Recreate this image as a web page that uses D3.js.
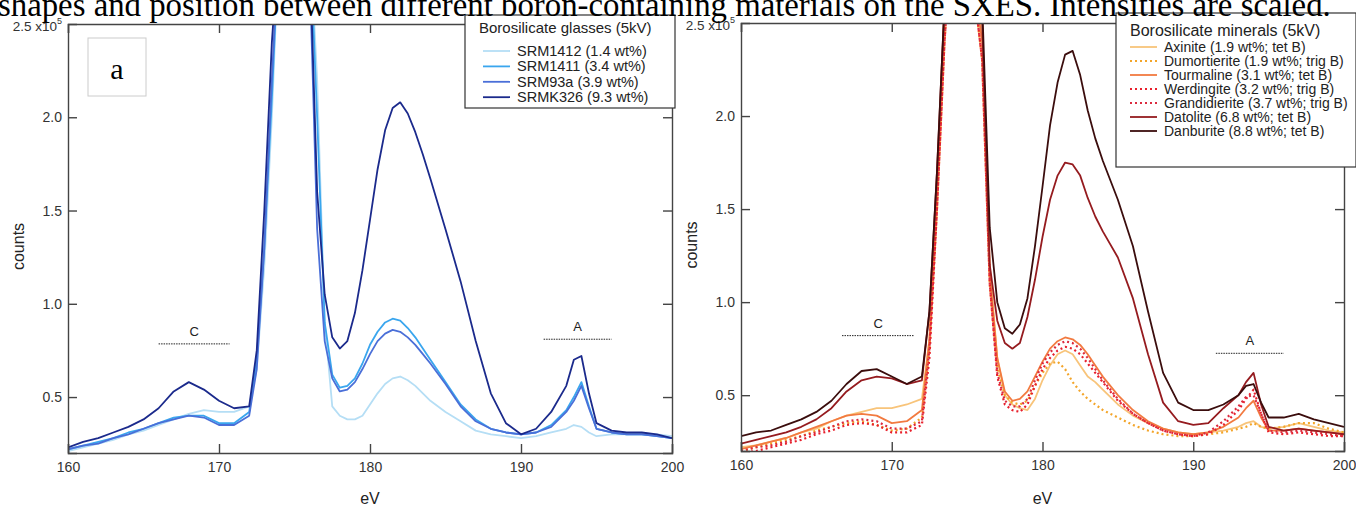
<!DOCTYPE html>
<html>
<head>
<meta charset="utf-8">
<script src="https://cdn.jsdelivr.net/npm/d3@7"></script>
<style>
body { margin: 0; background: #fff; }
svg { display: block; }
</style>
</head>
<body>
<div id="chart"></div>
<script>
// energy grid (eV) shared by every spectrum
var eV = [160,161,162,163,164,165,166,167,168,169,170,171,172,172.5,173,173.5,174,175,176,176.5,177,177.5,178,178.5,179,179.5,180,180.5,181,181.5,182,182.5,183,183.5,184,185,186,187,188,189,190,191,192,193,193.5,194,194.5,195,196,197,198,199,200];

// glasses, counts x1e5
var srm1412 = [0.21,0.23,0.25,0.27,0.30,0.32,0.35,0.38,0.41,0.43,0.42,0.42,0.45,0.65,1.2,2.0,3,3,3,2.2,0.9,0.45,0.40,0.38,0.38,0.40,0.46,0.52,0.57,0.60,0.61,0.59,0.56,0.52,0.48,0.42,0.37,0.32,0.30,0.29,0.28,0.29,0.31,0.33,0.35,0.34,0.31,0.29,0.30,0.30,0.30,0.30,0.29];
var srm1411 = [0.22,0.24,0.26,0.28,0.31,0.33,0.36,0.39,0.40,0.40,0.36,0.36,0.42,0.7,1.3,2.1,3,3,3,2.0,0.9,0.62,0.55,0.56,0.60,0.68,0.78,0.85,0.90,0.92,0.91,0.87,0.82,0.76,0.70,0.58,0.46,0.38,0.33,0.31,0.30,0.31,0.35,0.43,0.50,0.58,0.45,0.33,0.31,0.30,0.30,0.29,0.28];
var srm93a = [0.22,0.24,0.25,0.28,0.30,0.33,0.36,0.38,0.40,0.39,0.35,0.35,0.40,0.65,1.3,2.2,3,3,2.8,1.4,0.8,0.60,0.53,0.54,0.58,0.65,0.73,0.80,0.84,0.86,0.85,0.82,0.78,0.73,0.68,0.57,0.45,0.37,0.33,0.31,0.30,0.31,0.34,0.42,0.48,0.56,0.44,0.33,0.31,0.30,0.30,0.29,0.28];
var srmk326 = [0.23,0.26,0.28,0.31,0.34,0.38,0.44,0.53,0.58,0.54,0.48,0.44,0.45,0.75,1.5,2.4,3,3,2.9,1.6,1.05,0.82,0.76,0.80,0.95,1.18,1.45,1.72,1.93,2.05,2.08,2.02,1.92,1.80,1.67,1.40,1.12,0.80,0.52,0.36,0.30,0.33,0.42,0.56,0.70,0.72,0.52,0.36,0.32,0.31,0.31,0.30,0.28];

// minerals, counts x1e5
var axinite = [0.22,0.23,0.25,0.27,0.30,0.32,0.36,0.39,0.41,0.43,0.43,0.45,0.48,0.8,1.6,2.6,3,3,2.5,1.2,0.7,0.5,0.45,0.43,0.42,0.48,0.58,0.66,0.72,0.74,0.72,0.66,0.60,0.57,0.53,0.45,0.39,0.35,0.32,0.30,0.29,0.30,0.31,0.33,0.35,0.36,0.33,0.32,0.33,0.35,0.33,0.31,0.30];
var dumortierite = [0.20,0.22,0.24,0.26,0.28,0.31,0.33,0.35,0.36,0.34,0.31,0.32,0.38,0.75,1.5,2.4,3,3,2.3,1.1,0.65,0.5,0.46,0.45,0.47,0.55,0.62,0.67,0.68,0.64,0.57,0.52,0.48,0.45,0.42,0.38,0.34,0.31,0.29,0.28,0.28,0.29,0.30,0.32,0.33,0.35,0.33,0.32,0.33,0.35,0.35,0.32,0.30];
var tourmaline = [0.21,0.23,0.25,0.27,0.30,0.33,0.36,0.39,0.40,0.39,0.35,0.36,0.42,0.8,1.6,2.5,3,3,2.4,1.15,0.7,0.52,0.47,0.48,0.52,0.60,0.68,0.75,0.79,0.81,0.80,0.77,0.72,0.66,0.60,0.50,0.42,0.36,0.32,0.30,0.29,0.30,0.33,0.38,0.43,0.47,0.38,0.31,0.31,0.32,0.31,0.30,0.29];
var werdingite = [0.19,0.20,0.22,0.24,0.26,0.29,0.31,0.34,0.35,0.34,0.30,0.30,0.34,0.7,1.5,2.4,3,3,2.3,1.1,0.6,0.45,0.42,0.41,0.45,0.55,0.64,0.70,0.74,0.76,0.75,0.72,0.67,0.62,0.57,0.47,0.40,0.35,0.31,0.29,0.28,0.29,0.34,0.42,0.48,0.53,0.40,0.30,0.29,0.30,0.29,0.28,0.28];
var grandidierite = [0.20,0.22,0.23,0.25,0.28,0.30,0.33,0.36,0.37,0.36,0.32,0.32,0.36,0.75,1.5,2.4,3,3,2.3,1.1,0.62,0.47,0.44,0.44,0.48,0.58,0.67,0.73,0.77,0.79,0.78,0.75,0.70,0.64,0.58,0.48,0.40,0.35,0.31,0.29,0.28,0.30,0.36,0.44,0.49,0.50,0.40,0.31,0.30,0.31,0.30,0.29,0.28];
var datolite = [0.24,0.26,0.28,0.30,0.33,0.37,0.43,0.52,0.58,0.60,0.59,0.56,0.58,0.95,1.7,2.6,3,3,2.5,1.2,0.9,0.78,0.75,0.78,0.92,1.12,1.35,1.55,1.68,1.75,1.74,1.68,1.56,1.46,1.38,1.24,1.02,0.72,0.46,0.36,0.34,0.35,0.43,0.50,0.57,0.62,0.45,0.33,0.31,0.32,0.31,0.30,0.29];
var danburite = [0.28,0.30,0.31,0.34,0.37,0.41,0.47,0.56,0.63,0.64,0.60,0.56,0.60,0.95,1.7,2.6,3,3,2.6,1.4,1.0,0.86,0.83,0.88,1.02,1.3,1.62,1.95,2.18,2.33,2.35,2.22,2.03,1.88,1.76,1.55,1.30,0.95,0.62,0.46,0.42,0.42,0.45,0.50,0.55,0.56,0.46,0.38,0.38,0.40,0.37,0.35,0.33];

var xTicks = [160,170,180,190,200];
var yTicks = [0.5,1.0,1.5,2.0];

var glassNames = ["SRM1412 (1.4 wt%)","SRM1411 (3.4 wt%)","SRM93a (3.9 wt%)","SRMK326 (9.3 wt%)"];
var mineralNames = ["Axinite (1.9 wt%; tet B)","Dumortierite (1.9 wt%; trig B)","Tourmaline (3.1 wt%; tet B)","Werdingite (3.2 wt%; trig B)","Grandidierite (3.7 wt%; trig B)","Datolite (6.8 wt%; tet B)","Danburite (8.8 wt%; tet B)"];

var glasses = [
  {name: glassNames[0], values: srm1412, color: "#b5def5", dash: null},
  {name: glassNames[1], values: srm1411, color: "#3aa6ee", dash: null},
  {name: glassNames[2], values: srm93a, color: "#4a6fd8", dash: null},
  {name: glassNames[3], values: srmk326, color: "#1b2a8c", dash: null}
];
var minerals = [
  {name: mineralNames[0], values: axinite, color: "#f8c47a", dash: null},
  {name: mineralNames[1], values: dumortierite, color: "#f3a52a", dash: "2,3"},
  {name: mineralNames[2], values: tourmaline, color: "#f27a40", dash: null},
  {name: mineralNames[3], values: werdingite, color: "#e8202c", dash: "2,3"},
  {name: mineralNames[4], values: grandidierite, color: "#dc2a3e", dash: "2,3"},
  {name: mineralNames[5], values: datolite, color: "#951b1f", dash: null},
  {name: mineralNames[6], values: danburite, color: "#3b0d0d", dash: null}
];

var sans = "Liberation Sans, Arial, sans-serif";

var svg = d3.select("#chart").append("svg")
    .attr("width", 1356)
    .attr("height", 508);

function drawPanel(id, box, series, legend, marks) {
  var x = d3.scaleLinear().domain([160, 200]).range([box.x0, box.x1]);
  var y = d3.scaleLinear().domain([0.2, 2.5]).range([box.y1, box.y0]);
  var g = svg.append("g");

  g.append("clipPath").attr("id", "clip" + id)
    .append("rect")
      .attr("x", box.x0).attr("y", box.y0)
      .attr("width", box.x1 - box.x0).attr("height", box.y1 - box.y0);

  var line = d3.line()
      .x(function(d, i) { return x(eV[i]); })
      .y(function(d) { return y(d); });

  g.append("g").attr("clip-path", "url(#clip" + id + ")")
    .selectAll("path")
    .data(series)
    .enter().append("path")
      .attr("d", function(s) { return line(s.values); })
      .attr("fill", "none")
      .attr("stroke", function(s) { return s.color; })
      .attr("stroke-width", function(s) { return s.dash ? 2.2 : 1.8; })
      .attr("stroke-dasharray", function(s) { return s.dash; })
      .attr("stroke-linejoin", "round");

  // frame with inward ticks on all sides
  var bottom = g.append("g").attr("transform", "translate(0," + box.y1 + ")")
      .call(d3.axisBottom(x).tickValues(xTicks).tickSize(-9).tickPadding(9).tickFormat(d3.format("d")));
  var top = g.append("g").attr("transform", "translate(0," + box.y0 + ")")
      .call(d3.axisTop(x).tickValues(xTicks).tickSize(-9).tickFormat(""));
  var left = g.append("g").attr("transform", "translate(" + box.x0 + ",0)")
      .call(d3.axisLeft(y).tickValues(yTicks).tickSize(-9).tickPadding(6).tickFormat(d3.format(".1f")));
  var right = g.append("g").attr("transform", "translate(" + box.x1 + ",0)")
      .call(d3.axisRight(y).tickValues(yTicks).tickSize(-9).tickFormat(""));

  [bottom, top, left, right].forEach(function(a) {
    a.select(".domain").attr("stroke", "#444").attr("stroke-width", 1.4);
    a.selectAll(".tick line").attr("stroke", "#444").attr("stroke-width", 1.4);
    a.selectAll("text")
      .attr("font-family", sans)
      .attr("font-size", 14)
      .attr("fill", "#333");
  });
  left.selectAll(".tick text").attr("x", -6);

  // top label 2.5 x10^5
  var t = g.append("text")
      .attr("x", box.x0 - 6)
      .attr("y", box.y0 + 7)
      .attr("text-anchor", "end")
      .attr("font-family", sans)
      .attr("font-size", 13.5)
      .attr("fill", "#333");
  t.append("tspan").text("2.5 x10");
  t.append("tspan").attr("font-size", 9).attr("dy", -7).text("5");

  g.append("text")
      .attr("transform", "translate(" + (box.x0 - 44) + "," + ((box.y0 + box.y1) / 2 + 8) + ") rotate(-90)")
      .attr("text-anchor", "middle")
      .attr("font-family", sans)
      .attr("font-size", 16)
      .attr("fill", "#222")
      .text("counts");

  g.append("text")
      .attr("x", (box.x0 + box.x1) / 2)
      .attr("y", 504)
      .attr("text-anchor", "middle")
      .attr("font-family", sans)
      .attr("font-size", 16)
      .attr("fill", "#222")
      .text("eV");

  // region markers (C and A)
  marks.forEach(function(m) {
    g.append("line")
      .attr("x1", x(m.from)).attr("x2", x(m.to))
      .attr("y1", y(m.level)).attr("y2", y(m.level))
      .attr("stroke", "#222").attr("stroke-width", 1)
      .attr("stroke-dasharray", "1.5,1");
    g.append("text")
      .attr("x", x((m.from + m.to) / 2))
      .attr("y", y(m.level) - 8)
      .attr("text-anchor", "middle")
      .attr("font-family", sans)
      .attr("font-size", 13)
      .attr("fill", "#222")
      .text(m.label);
  });

  // legend
  var lg = g.append("g");
  lg.append("rect")
      .attr("x", legend.x).attr("y", legend.y)
      .attr("width", legend.w).attr("height", legend.h)
      .attr("fill", "#fff").attr("stroke", "#333").attr("stroke-width", 1.2);
  lg.append("text")
      .attr("x", legend.x + 14).attr("y", legend.y + legend.ty)
      .attr("font-family", sans)
      .attr("font-size", legend.tfs)
      .attr("fill", "#222")
      .text(legend.title);
  var rows = lg.selectAll(".row").data(series).enter().append("g")
      .attr("transform", function(s, i) { return "translate(0," + (legend.y + legend.first + i * legend.step) + ")"; });
  rows.append("line")
      .attr("x1", legend.x + legend.lx).attr("x2", legend.x + legend.lx + 27)
      .attr("stroke", function(s) { return s.color; })
      .attr("stroke-width", function(s) { return s.dash ? 2 : 1.8; })
      .attr("stroke-dasharray", function(s) { return s.dash; });
  rows.append("text")
      .attr("x", legend.x + legend.lx + 34)
      .attr("dy", "0.35em")
      .attr("font-family", sans)
      .attr("font-size", legend.fs)
      .attr("fill", "#222")
      .text(function(s) { return s.name; });
}

drawPanel("L", {x0: 68, x1: 672, y0: 24, y1: 453}, glasses,
  {x: 465, y: 15, w: 210, h: 93, title: "Borosilicate glasses (5kV)", tfs: 15, ty: 18, fs: 14.5, first: 36, step: 15.4, lx: 18},
  [{from: 166, to: 170.7, level: 0.785, label: "C"}, {from: 191.5, to: 196, level: 0.81, label: "A"}]);

drawPanel("R", {x0: 741, x1: 1344, y0: 23, y1: 451}, minerals,
  {x: 1116, y: 13, w: 240, h: 154, title: "Borosilicate minerals (5kV)", tfs: 16, ty: 23, fs: 14, first: 34, step: 14, lx: 14},
  [{from: 166.7, to: 171.5, level: 0.82, label: "C"}, {from: 191.5, to: 196, level: 0.725, label: "A"}]);

// panel tag
svg.append("rect")
    .attr("x", 88).attr("y", 38).attr("width", 58).attr("height", 58)
    .attr("fill", "#fff").attr("stroke", "#ccc").attr("stroke-width", 1);
svg.append("text")
    .attr("x", 117).attr("y", 79)
    .attr("text-anchor", "middle")
    .attr("font-family", "Liberation Serif, Times New Roman, serif")
    .attr("font-size", 30)
    .attr("fill", "#000")
    .text("a");

// caption cut off at the top of the page, drawn last so it stays on top
svg.append("text")
    .attr("x", -2)
    .attr("y", 16)
    .attr("font-family", "Liberation Serif, Times New Roman, serif")
    .attr("font-size", 32.8)
    .attr("fill", "#000")
    .text("shapes and position between different boron-containing materials on the SXES. Intensities are scaled.");
</script>
</body>
</html>
